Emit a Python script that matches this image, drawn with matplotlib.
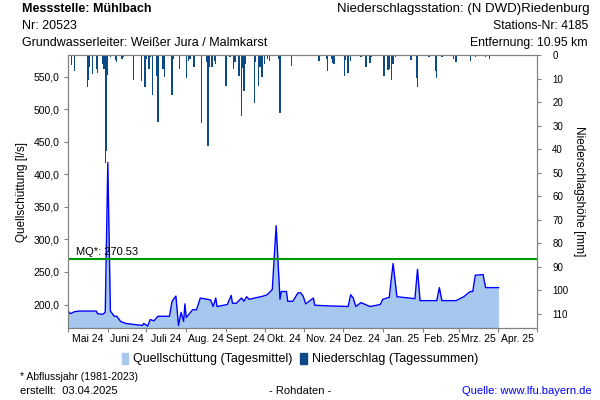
import pandas as pd
import matplotlib
matplotlib.use("Agg")
import matplotlib.pyplot as plt
import matplotlib.dates as mdates
from matplotlib.patches import Patch
from matplotlib.ticker import FuncFormatter

plt.rcParams['font.family'] = ['Liberation Sans', 'DejaVu Sans']

# Quellschuettung (Tagesmittel) [l/s]
flow_dates = ['2024-05-01', '2024-05-03', '2024-05-06', '2024-05-10', '2024-05-23',
              '2024-05-24', '2024-05-28', '2024-05-30', '2024-06-01', '2024-06-03',
              '2024-06-06', '2024-06-08', '2024-06-11', '2024-06-15', '2024-06-23',
              '2024-06-28', '2024-06-29', '2024-07-02', '2024-07-04', '2024-07-07',
              '2024-07-10', '2024-07-19', '2024-07-21', '2024-07-24', '2024-07-26',
              '2024-07-28', '2024-07-30', '2024-07-31', '2024-08-01', '2024-08-06',
              '2024-08-09', '2024-08-12', '2024-08-20', '2024-08-22', '2024-08-24',
              '2024-08-25', '2024-09-02', '2024-09-05', '2024-09-06', '2024-09-09',
              '2024-09-13', '2024-09-15', '2024-09-17', '2024-09-19', '2024-09-30',
              '2024-10-03', '2024-10-07', '2024-10-10', '2024-10-13', '2024-10-14',
              '2024-10-18', '2024-10-19', '2024-10-23', '2024-10-27', '2024-10-29',
              '2024-10-31', '2024-11-02', '2024-11-08', '2024-11-09', '2024-11-18',
              '2024-12-05', '2024-12-07', '2024-12-09', '2024-12-11', '2024-12-15',
              '2024-12-22', '2024-12-30', '2025-01-01', '2025-01-06', '2025-01-09',
              '2025-01-12', '2025-01-26', '2025-01-28', '2025-01-30', '2025-02-12',
              '2025-02-14', '2025-02-16', '2025-02-27', '2025-03-05', '2025-03-10',
              '2025-03-12', '2025-03-14', '2025-03-20', '2025-03-22', '2025-04-01']
flow = [190, 186, 189, 190, 190,
        186, 185, 188, 418, 190,
        182, 182, 174, 171, 169,
        168, 171, 167, 177, 175,
        182, 182, 205, 213, 168,
        188, 174, 201, 180, 192,
        192, 210, 207, 197, 210,
        197, 200, 214, 202, 202,
        210, 205, 212, 208, 213,
        215, 223, 321, 208, 220,
        220, 205, 205, 218, 218,
        213, 201, 210, 199, 198,
        197, 215, 210, 197, 203,
        197, 200, 208, 211, 263,
        212, 209, 254, 206, 206,
        226, 206, 206, 212, 220,
        220, 245, 246, 226, 226]

# Niederschlag (Tagessummen) [mm]
rain_dates = ['2024-05-01', '2024-05-04', '2024-05-06', '2024-05-16', '2024-05-17',
              '2024-05-18', '2024-05-20', '2024-05-23', '2024-05-24', '2024-05-28',
              '2024-05-29', '2024-05-30', '2024-05-31', '2024-06-01', '2024-06-03',
              '2024-06-07', '2024-06-08', '2024-06-12', '2024-06-13', '2024-06-14',
              '2024-06-21', '2024-06-27', '2024-06-30', '2024-07-01', '2024-07-03',
              '2024-07-04', '2024-07-06', '2024-07-09', '2024-07-10', '2024-07-14',
              '2024-07-15', '2024-07-21', '2024-07-22', '2024-07-27', '2024-08-01',
              '2024-08-03', '2024-08-04', '2024-08-07', '2024-08-13', '2024-08-17',
              '2024-08-18', '2024-08-19', '2024-08-21', '2024-08-23', '2024-08-24',
              '2024-09-01', '2024-09-04', '2024-09-07', '2024-09-08', '2024-09-11',
              '2024-09-13', '2024-09-14', '2024-09-15', '2024-09-16', '2024-09-23',
              '2024-09-24', '2024-09-26', '2024-09-27', '2024-09-28', '2024-09-29',
              '2024-10-01', '2024-10-03', '2024-10-05', '2024-10-12', '2024-10-13',
              '2024-10-22', '2024-10-28', '2024-11-03', '2024-11-12', '2024-11-13',
              '2024-11-18', '2024-11-19', '2024-11-22', '2024-11-23', '2024-11-24',
              '2024-12-02', '2024-12-03', '2024-12-05', '2024-12-07', '2024-12-15',
              '2024-12-19', '2024-12-22', '2024-12-23', '2025-01-02', '2025-01-05',
              '2025-01-06', '2025-01-08', '2025-01-09', '2025-01-11', '2025-01-23',
              '2025-01-27', '2025-01-28', '2025-02-06', '2025-02-11', '2025-02-12',
              '2025-02-16', '2025-02-25', '2025-02-27', '2025-03-10', '2025-03-14',
              '2025-03-22', '2025-03-25', '2025-03-28']
rain = [0.7, 4.2, 7.0, 13.4, 10.5,
        5.0, 8.0, 6.0, 7.5, 4.0,
        6.0, 46.0, 41.0, 8.5, 0.7,
        2.0, 3.0, 1.5, 1.0, 0.5,
        10.5, 11.0, 13.6, 1.5, 6.0,
        0.7, 17.0, 9.0, 28.4, 6.0,
        9.5, 17.0, 1.5, 6.0, 9.6,
        2.5, 1.5, 5.0, 28.8, 3.0,
        38.7, 5.0, 5.0, 2.5, 4.0,
        13.0, 0.7, 6.0, 3.0, 9.0,
        26.0, 5.5, 15.5, 4.0, 20.4,
        3.0, 13.0, 5.0, 5.0, 9.5,
        4.0, 1.5, 2.5, 1.5, 24.6,
        4.5, 0.5, 0.5, 2.5, 2.5,
        1.5, 6.6, 1.5, 3.5, 4.0,
        9.0, 2.0, 7.5, 2.5, 1.0,
        5.0, 3.5, 1.0, 9.0, 6.5,
        6.0, 10.8, 4.0, 1.0, 2.0,
        9.8, 13.4, 1.0, 6.6, 9.8,
        1.0, 1.5, 3.0, 2.5, 1.0,
        1.0, 1.5, 0.5]

mq = 270.53
month_labels = ['Mai 24', 'Juni 24', 'Juli 24', 'Aug. 24', 'Sept. 24', 'Okt. 24',
                'Nov. 24', 'Dez. 24', 'Jan. 25', 'Feb. 25', 'Mrz. 25', 'Apr. 25']

fd = pd.to_datetime(flow_dates)
rd = pd.to_datetime(rain_dates)
grey = '#808080'
ybot = 164

fig = plt.figure(figsize=(6, 4), dpi=100)
ax = fig.add_axes([0.1133, 0.18, 0.7817, 0.6825])
ax.fill_between(fd, flow, ybot, color='#a6c8ee', lw=0)
ax.plot(fd, flow, color='#0000ff', lw=1)
ax.axhline(mq, color='#009900', lw=1.5)
ax.text(pd.Timestamp('2024-05-07'), mq + 2, 'MQ*: ' + '%.2f' % mq, fontsize=8, va='bottom')

ax.set_ylim(ybot, 583)
ax.set_yticks([200, 250, 300, 350, 400, 450, 500, 550])
ax.yaxis.set_major_formatter(FuncFormatter(lambda v, p: ('%.1f' % v).replace('.', ',')))
ax.set_xlim(pd.Timestamp('2024-05-01'), pd.Timestamp('2025-05-01'))
ax.xaxis.set_major_locator(mdates.MonthLocator())
ax.xaxis.set_major_formatter(plt.NullFormatter())
ax.xaxis.set_minor_locator(mdates.MonthLocator(bymonthday=16))
ax.set_xticklabels(month_labels, minor=True)
ax.tick_params(axis='x', which='minor', length=0, labelsize=7.5, pad=4)
ax.tick_params(axis='x', which='major', length=3, color=grey)
ax.tick_params(axis='y', length=3, color=grey, labelsize=7.5, pad=3)
ax.set_ylabel('Quellschüttung [l/s]', fontsize=8.5, labelpad=4)
for s in ax.spines.values():
    s.set_color(grey)

ax2 = ax.twinx()
ax2.bar(rd, rain, width=1.0, color='#0b4a86', lw=0)
ax2.set_ylim(116, 0)
ax2.set_yticks(range(0, 111, 10))
ax2.tick_params(axis='y', length=3, color=grey, labelsize=7, pad=8)
ax2.set_ylabel('Niederschlagshöhe [mm]', fontsize=8.5, rotation=-90, labelpad=12)
for s in ax2.spines.values():
    s.set_color(grey)

# header
fig.text(22 / 600, 1 - 9 / 400, 'Messstelle: Mühlbach', fontsize=9, fontweight='bold', va='center')
fig.text(22 / 600, 1 - 26 / 400, 'Nr: 20523', fontsize=9, va='center')
fig.text(22 / 600, 1 - 43 / 400, 'Grundwasserleiter: Weißer Jura / Malmkarst', fontsize=9, va='center')
fig.text(590 / 600, 1 - 9 / 400, 'Niederschlagsstation: (N DWD)Riedenburg', fontsize=9.5, ha='right', va='center')
fig.text(588 / 600, 1 - 26 / 400, 'Stations-Nr: 4185', fontsize=8.8, ha='right', va='center')
fig.text(588 / 600, 1 - 43 / 400, 'Entfernung: 10.95 km', fontsize=8.8, ha='right', va='center')

# legend
handles = [Patch(color='#a6c8ee'), Patch(color='#0b4a86')]
fig.legend(handles, ['Quellschüttung (Tagesmittel)', 'Niederschlag (Tagessummen)'],
           loc='center', bbox_to_anchor=(0.5, 1 - 359 / 400), ncol=2, frameon=False,
           fontsize=9, handlelength=0.5, handleheight=1.0, handletextpad=0.4,
           columnspacing=0.6)

# footer
fig.text(20 / 600, 1 - 377 / 400, '* Abflussjahr (1981-2023)', fontsize=7.5, va='center')
fig.text(20 / 600, 1 - 391 / 400, 'erstellt:  03.04.2025', fontsize=8, va='center')
fig.text(300 / 600, 1 - 391 / 400, '- Rohdaten -', fontsize=8, ha='center', va='center')
fig.text(592 / 600, 1 - 391 / 400, 'Quelle: www.lfu.bayern.de', fontsize=8, ha='right',
         va='center', color='#0000ff')

fig.savefig('out.png', dpi=100)
